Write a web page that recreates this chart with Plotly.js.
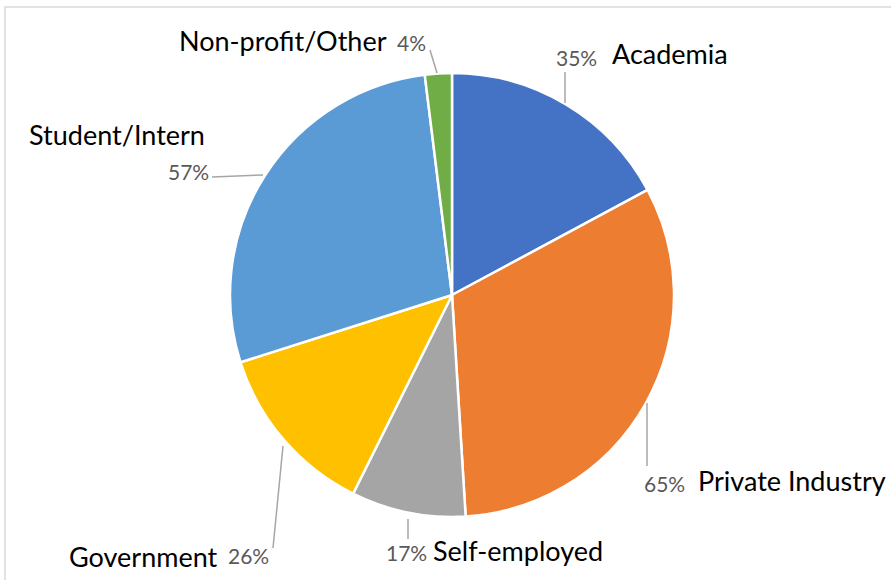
<!DOCTYPE html>
<html>
<head>
<meta charset="utf-8">
<script src="https://cdn.plot.ly/plotly-3.0.1.min.js"></script>
<style>html,body{margin:0;padding:0;background:#fff;}#chart{width:891px;height:580px;}</style>
</head>
<body>
<div id="chart"></div>
<script>
// ---- data ----
const categories = ["Academia", "Private Industry", "Self-employed", "Government", "Student/Intern", "Non-profit/Other"];
const values = [35, 65, 17, 26, 57, 4];
const valueLabels = ["35%", "65%", "17%", "26%", "57%", "4%"];
const sliceColors = ["#4472C4", "#ED7D31", "#A5A5A5", "#FFC000", "#5B9BD5", "#70AD47"];

// ---- layout helpers (pixel -> paper) ----
const W = 891, H = 580;
const px = x => x / W;
const py = y => 1 - y / H;

// label placement (pixels): [pctX, pctY, nameX, nameY]
const labelPos = [
  [576, 57, 670, 53],
  [664, 483, 792, 480],
  [406, 552, 518, 550],
  [248, 555, 143, 556],
  [188, 172, 117, 135],
  [411, 42, 283, 40]
];
// leader lines (pixels): [x0,y0,x1,y1]
const leaders = [
  [565, 72, 565, 103],
  [647, 403, 647, 466],
  [408, 519, 408, 539],
  [283, 446, 273, 548],
  [212, 177, 263, 175],
  [430, 50, 437, 73]
];

const cx = 452, cy = 295, R = 222;

const trace = {
  type: "pie",
  labels: categories,
  values: values,
  sort: false,
  direction: "clockwise",
  rotation: 0,
  marker: { colors: sliceColors, line: { color: "#ffffff", width: 2.5 } },
  textinfo: "none",
  hoverinfo: "label+value",
  showlegend: false,
  domain: { x: [px(cx - R), px(cx + R)], y: [py(cy + R), py(cy - R)] }
};

const annotations = [];
categories.forEach((c, i) => {
  const p = labelPos[i];
  annotations.push({
    xref: "paper", yref: "paper", x: px(p[0]), y: py(p[1]),
    text: valueLabels[i], showarrow: false, xanchor: "center", yanchor: "middle",
    font: { family: "Lato, 'Open Sans', sans-serif", size: 21, color: "#595959" }
  });
  annotations.push({
    xref: "paper", yref: "paper", x: px(p[2]), y: py(p[3]),
    text: c, showarrow: false, xanchor: "center", yanchor: "middle",
    font: { family: "Lato, 'Open Sans', sans-serif", size: 27, color: "#000000" }
  });
});

const shapes = leaders.map(l => ({
  type: "line", xref: "paper", yref: "paper",
  x0: px(l[0]), y0: py(l[1]), x1: px(l[2]), y1: py(l[3]),
  line: { color: "#A6A6A6", width: 1.5 }
}));
// chart frame
shapes.push({
  type: "rect", xref: "paper", yref: "paper",
  x0: px(5), y0: py(600), x1: px(910), y1: py(7),
  line: { color: "#D9D9D9", width: 1.5 }, fillcolor: "rgba(0,0,0,0)"
});

const layout = {
  width: W, height: H,
  margin: { l: 0, r: 0, t: 0, b: 0 },
  paper_bgcolor: "#ffffff",
  annotations: annotations,
  shapes: shapes
};

Plotly.newPlot("chart", [trace], layout, { displayModeBar: false, staticPlot: true });
</script>
</body>
</html>
